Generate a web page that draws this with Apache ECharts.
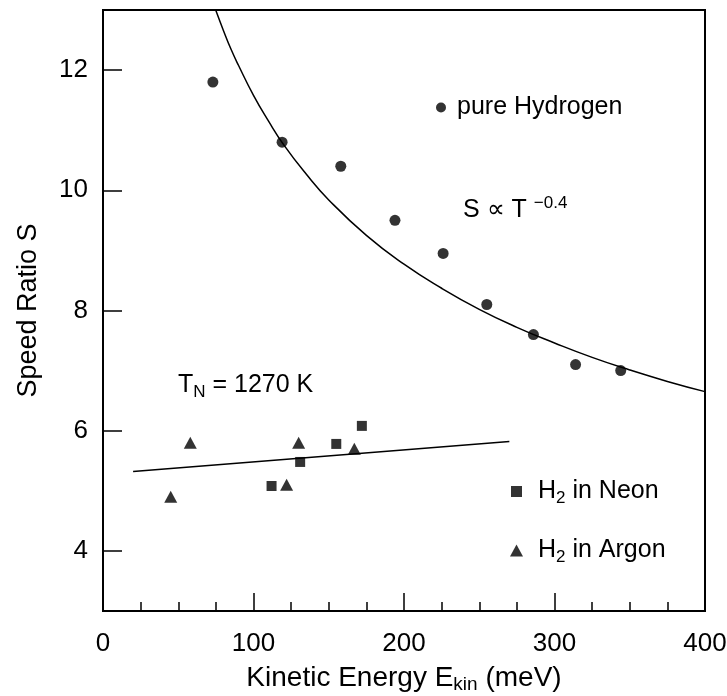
<!DOCTYPE html>
<html style="height: 100%;width: 100%">
<head>
    <meta charset="utf-8">
    <script src="https://cdn.jsdelivr.net/npm/echarts@6/dist/echarts.min.js"></script>
    <style>
        body { margin: 0; background: #fff; }
    </style>
</head>
<body style="height: 100%;width: 100%;overflow: hidden">
<div id="container" style="width: 727px;height: 696px"></div>
<script type="text/javascript">
// pure hydrogen beam
var hydrogenE = [73, 119, 158, 194, 226, 255, 286, 314, 344];
var hydrogenS = [11.8, 10.8, 10.4, 9.5, 8.95, 8.1, 7.6, 7.1, 7.0];
// seeded beams
var neonE = [112, 131, 155, 172];
var neonS = [5.08, 5.48, 5.78, 6.08];
var argonE = [45, 58, 122, 130, 167];
var argonS = [4.9, 5.8, 5.1, 5.8, 5.7];
// S ~ T^-0.4 curve
var fitE = [75, 80, 85, 90, 100, 110, 120, 135, 150, 175, 200, 225, 250, 275, 300, 325, 350, 375, 400];
var fitS = [12.99, 12.66, 12.35, 12.08, 11.58, 11.15, 10.76, 10.27, 9.84, 9.25, 8.77, 8.37, 8.02, 7.72, 7.46, 7.22, 7.01, 6.82, 6.65];
// T_N = 1270 K line
var tnE = [20, 270];
var tnS = [5.32, 5.82];
var yTicks = [4, 6, 8, 10, 12];

function pairs(xs, ys) {
    var out = [];
    for (var i = 0; i < xs.length; i++) out.push([xs[i], ys[i]]);
    return out;
}

var FONT = "'Liberation Sans', Arial, sans-serif";
var subRich = {
    n: { fontSize: 25, lineHeight: 30, fontFamily: FONT, color: '#000' },
    sub: { fontSize: 17, lineHeight: 17, verticalAlign: 'bottom', fontFamily: FONT, color: '#000' },
    sup: { fontSize: 17, lineHeight: 17, verticalAlign: 'top', fontFamily: FONT, color: '#000' }
};
var titleRich = {
    sub: { fontSize: 19, lineHeight: 18, verticalAlign: 'bottom', fontFamily: FONT, color: '#000' }
};

function legendOf(name, icon, w, h, left, top, pad) {
    return {
        data: [{ name: name, icon: icon }],
        left: left, top: top, padding: 0,
        itemWidth: w, itemHeight: h,
        selectedMode: false,
        formatter: function (n) {
            return n.indexOf('H2') === 0 ? '{n|H}{sub|2}{n|' + n.slice(2) + '}' : '{n|' + n + '}';
        },
        textStyle: { padding: [0, 0, 0, pad], rich: subRich }
    };
}

var myChart = echarts.init(document.getElementById('container'));

option = {
    backgroundColor: '#fff',
    animation: false,
    textStyle: { fontFamily: FONT, color: '#000' },
    grid: {
        left: 103, right: 22, top: 10, bottom: 85,
        outerBoundsMode: 'none',
        show: true, borderColor: '#000', borderWidth: 2
    },
    legend: [
        legendOf('pure Hydrogen', 'circle', 10, 10, 436, 95, 6),
        legendOf('H2 in Neon', 'rect', 11, 11, 511, 479, 11),
        legendOf('H2 in Argon', 'triangle', 13, 12, 510, 538, 10)
    ],
    xAxis: {
        type: 'value', min: 0, max: 400, interval: 100,
        name: 'Kinetic Energy E{sub|kin} (meV)',
        nameLocation: 'middle', nameGap: 45,
        nameTextStyle: { fontSize: 28, lineHeight: 32, color: '#000', rich: titleRich },
        axisLine: { lineStyle: { color: '#000', width: 2 } },
        axisTick: { inside: true, length: 18, lineStyle: { color: '#000', width: 1.5 } },
        minorTick: { show: true, splitNumber: 4, length: 9, lineStyle: { color: '#000', width: 1.5 } },
        axisLabel: { fontSize: 26, color: '#000', margin: 20 },
        splitLine: { show: false }
    },
    yAxis: {
        type: 'value', min: 3, max: 13,
        name: 'Speed Ratio S',
        nameLocation: 'middle', nameGap: 61, nameRotate: 90,
        nameTextStyle: { fontSize: 27, color: '#000' },
        axisLine: { lineStyle: { color: '#000', width: 2 } },
        axisTick: { inside: true, length: 19, customValues: yTicks, lineStyle: { color: '#000', width: 1.5 } },
        axisLabel: { fontSize: 26, color: '#000', margin: 15, customValues: yTicks },
        splitLine: { show: false }
    },
    graphic: [
        {
            type: 'text', left: 463, top: 195, silent: true,
            style: { text: '{n|S ∝ T }{sup|−0.4}', rich: subRich }
        },
        {
            type: 'text', left: 178, top: 373, silent: true,
            style: { text: '{n|T}{sub|N}{n| = 1270 K}', rich: subRich }
        }
    ],
    series: [
        {
            name: 'pure Hydrogen', type: 'scatter', symbol: 'circle', symbolSize: 11,
            itemStyle: { color: '#000' }, data: pairs(hydrogenE, hydrogenS), z: 3
        },
        {
            name: 'fit', type: 'line', showSymbol: false, smooth: true,
            lineStyle: { color: '#000', width: 1.5 }, data: pairs(fitE, fitS)
        },
        {
            name: 'H2 in Neon', type: 'scatter', symbol: 'rect', symbolSize: 10,
            itemStyle: { color: '#000' }, data: pairs(neonE, neonS), z: 3
        },
        {
            name: 'H2 in Argon', type: 'scatter', symbol: 'triangle', symbolSize: [13, 12],
            itemStyle: { color: '#000' }, data: pairs(argonE, argonS), z: 3
        },
        {
            name: 'T_N line', type: 'line', showSymbol: false,
            lineStyle: { color: '#000', width: 1.5 }, data: pairs(tnE, tnS)
        }
    ]
};

if (option && typeof option === 'object') {
    myChart.setOption(option);
}
</script>
</body>
</html>
